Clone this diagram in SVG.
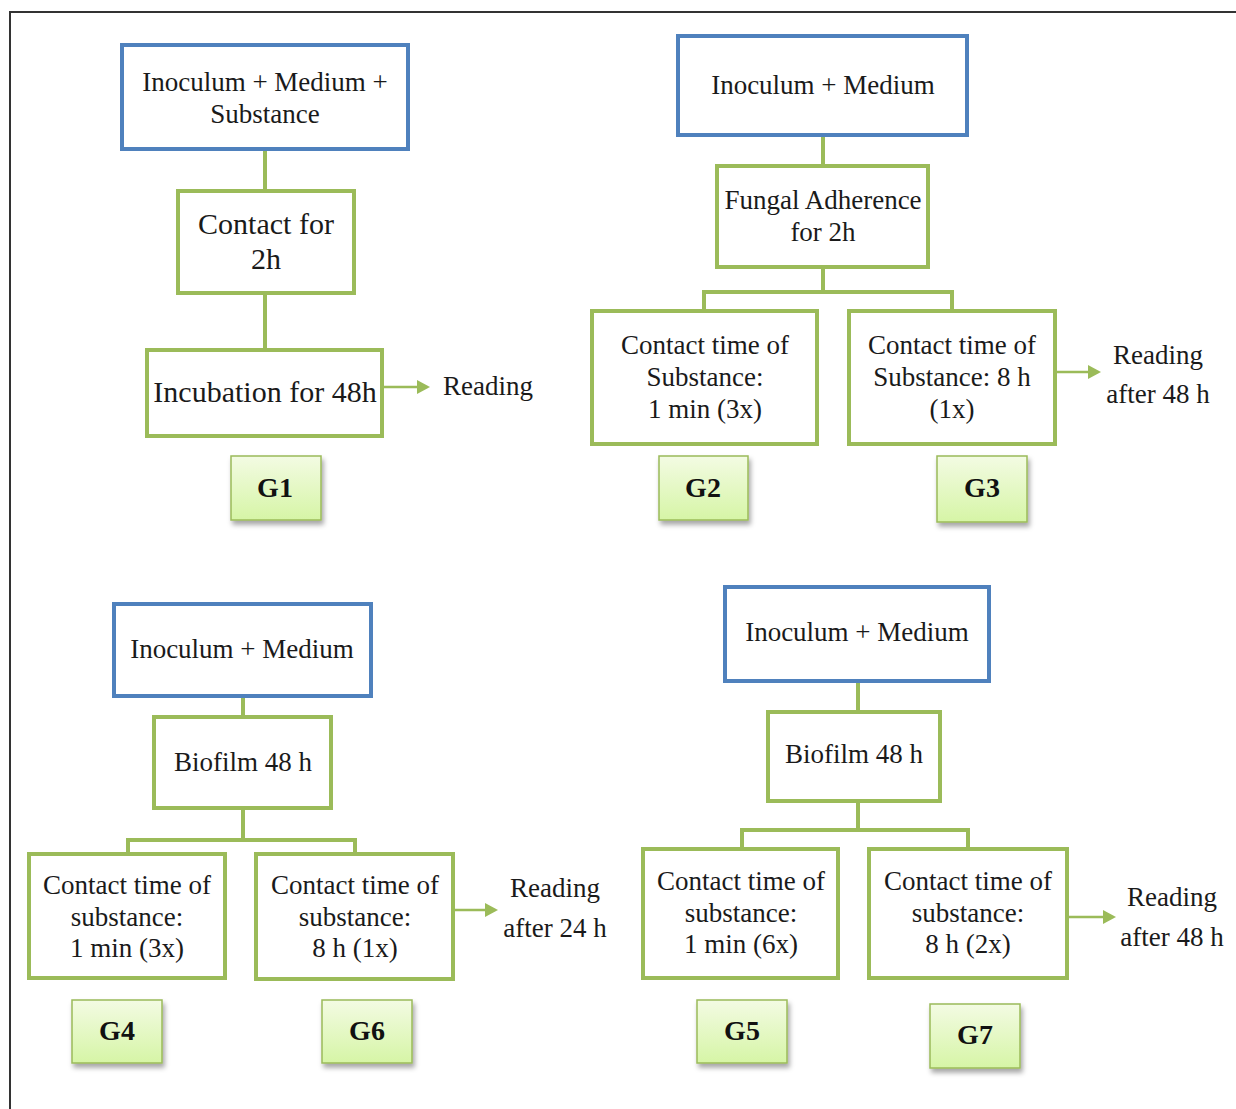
<svg xmlns="http://www.w3.org/2000/svg" width="1236" height="1109" viewBox="0 0 1236 1109">
<defs>
<style>
.t{font-family:"Liberation Serif","Times New Roman",serif;font-size:27px;fill:#1a1a1a;text-anchor:middle}
.tl{font-size:30px}
.g{font-family:"Liberation Serif","Times New Roman",serif;font-size:28px;font-weight:bold;fill:#111;text-anchor:middle}
.blue{fill:#fff;stroke:#4F81BD;stroke-width:4}
.green{fill:#fff;stroke:#9BBB59;stroke-width:4}
.lab{fill:url(#gg);stroke:#9BBB59;stroke-width:1.5;filter:url(#sh)}
.con{fill:none;stroke:#9BBB59;stroke-width:4}
.arr{fill:none;stroke:#9BBB59;stroke-width:2.5;marker-end:url(#ah)}
</style>
<linearGradient id="gg" x1="0" y1="0" x2="0" y2="1">
<stop offset="0" stop-color="#F3FBE3"/>
<stop offset="1" stop-color="#D6F5A6"/>
</linearGradient>
<filter id="sh" x="-20%" y="-20%" width="150%" height="150%">
<feDropShadow dx="2" dy="4" stdDeviation="2.5" flood-color="#000" flood-opacity="0.35"/>
</filter>
<marker id="ah" markerWidth="13" markerHeight="14" refX="2" refY="7" orient="auto" markerUnits="userSpaceOnUse" viewBox="0 0 13 14">
<path d="M0,0 L13,7 L0,14 z" fill="#9BBB59"/>
</marker>
</defs>
<rect width="1236" height="1109" fill="#fff"/>
<path d="M10,1109 V12 H1236" fill="none" stroke="#333" stroke-width="2"/>

<g id="connectors">
<path class="con" d="M265,149 V191 M265,293 V350"/>
<path class="arr" d="M382,387 H419"/>
<path class="con" d="M823,135 V166 M823,267 V292 M704,311 V292 H952 V311"/>
<path class="arr" d="M1055,372 H1090"/>
<path class="con" d="M243,696 V717 M243,808 V840 M128,854 V840 H355 V854"/>
<path class="arr" d="M453,910 H487"/>
<path class="con" d="M858,681 V712 M858,801 V830 M742,849 V830 H968 V849"/>
<path class="arr" d="M1067,917 H1105"/>
</g>

<g id="g1-start"><rect class="blue" x="122" y="45" width="286" height="104"/>
<text class="t" x="265" y="91">Inoculum + Medium +</text><text class="t" x="265" y="123">Substance</text></g>
<g id="g1-contact"><rect class="green" x="178" y="191" width="176" height="102"/>
<text class="t tl" x="266" y="234">Contact for</text><text class="t tl" x="266" y="269">2h</text></g>
<g id="g1-incubation"><rect class="green" x="147" y="350" width="235" height="86"/>
<text class="t tl" x="265" y="402">Incubation for 48h</text></g>
<g id="g1-reading"><text class="t" x="488" y="395">Reading</text></g>
<g id="G1"><rect class="lab" x="231" y="456" width="90" height="64"/><text class="g" x="275" y="497">G1</text></g>

<g id="g23-start"><rect class="blue" x="678" y="36" width="289" height="99"/>
<text class="t" x="823" y="94">Inoculum + Medium</text></g>
<g id="g23-adherence"><rect class="green" x="717" y="166" width="211" height="101"/>
<text class="t" x="823" y="209">Fungal Adherence</text><text class="t" x="823" y="241">for 2h</text></g>
<g id="g2-contact"><rect class="green" x="592" y="311" width="225" height="133"/>
<text class="t" x="705" y="354">Contact time of</text><text class="t" x="705" y="386">Substance:</text><text class="t" x="705" y="418">1 min (3x)</text></g>
<g id="g3-contact"><rect class="green" x="849" y="311" width="206" height="133"/>
<text class="t" x="952" y="354">Contact time of</text><text class="t" x="952" y="386">Substance: 8 h</text><text class="t" x="952" y="418">(1x)</text></g>
<g id="g3-reading"><text class="t" x="1158" y="364">Reading</text><text class="t" x="1158" y="403">after 48 h</text></g>
<g id="G2"><rect class="lab" x="659" y="456" width="89" height="64"/><text class="g" x="703" y="497">G2</text></g>
<g id="G3"><rect class="lab" x="937" y="456" width="90" height="66"/><text class="g" x="982" y="497">G3</text></g>

<g id="g46-start"><rect class="blue" x="114" y="604" width="257" height="92"/>
<text class="t" x="242" y="658">Inoculum + Medium</text></g>
<g id="g46-biofilm"><rect class="green" x="154" y="717" width="177" height="91"/>
<text class="t" x="243" y="771">Biofilm 48 h</text></g>
<g id="g4-contact"><rect class="green" x="29" y="854" width="196" height="124"/>
<text class="t" x="127" y="894">Contact time of</text><text class="t" x="127" y="926">substance:</text><text class="t" x="127" y="957">1 min (3x)</text></g>
<g id="g6-contact"><rect class="green" x="256" y="854" width="197" height="125"/>
<text class="t" x="355" y="894">Contact time of</text><text class="t" x="355" y="926">substance:</text><text class="t" x="355" y="957">8 h (1x)</text></g>
<g id="g6-reading"><text class="t" x="555" y="897">Reading</text><text class="t" x="555" y="937">after 24 h</text></g>
<g id="G4"><rect class="lab" x="72" y="1000" width="90" height="63"/><text class="g" x="117" y="1040">G4</text></g>
<g id="G6"><rect class="lab" x="322" y="1000" width="90" height="63"/><text class="g" x="367" y="1040">G6</text></g>

<g id="g57-start"><rect class="blue" x="725" y="587" width="264" height="94"/>
<text class="t" x="857" y="641">Inoculum + Medium</text></g>
<g id="g57-biofilm"><rect class="green" x="768" y="712" width="172" height="89"/>
<text class="t" x="854" y="763">Biofilm 48 h</text></g>
<g id="g5-contact"><rect class="green" x="643" y="849" width="195" height="129"/>
<text class="t" x="741" y="890">Contact time of</text><text class="t" x="741" y="922">substance:</text><text class="t" x="741" y="953">1 min (6x)</text></g>
<g id="g7-contact"><rect class="green" x="869" y="849" width="198" height="129"/>
<text class="t" x="968" y="890">Contact time of</text><text class="t" x="968" y="922">substance:</text><text class="t" x="968" y="953">8 h (2x)</text></g>
<g id="g7-reading"><text class="t" x="1172" y="906">Reading</text><text class="t" x="1172" y="946">after 48 h</text></g>
<g id="G5"><rect class="lab" x="697" y="1000" width="90" height="63"/><text class="g" x="742" y="1040">G5</text></g>
<g id="G7"><rect class="lab" x="930" y="1004" width="90" height="64"/><text class="g" x="975" y="1044">G7</text></g>
</svg>
